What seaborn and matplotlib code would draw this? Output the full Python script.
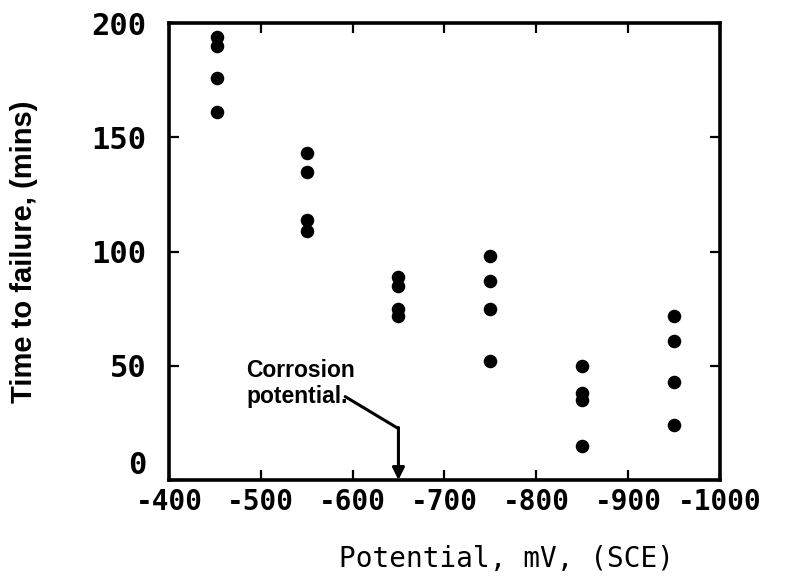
import matplotlib
matplotlib.use("Agg")
import matplotlib.pyplot as plt
import seaborn as sns
import pandas as pd

potential_mv = [-452, -452, -452, -452,
                -550, -550, -550, -550,
                -650, -650, -650, -650,
                -750, -750, -750, -750,
                -850, -850, -850, -850,
                -950, -950, -950, -950]
time_to_failure = [194, 190, 176, 161,
                   143, 135, 114, 109,
                   89, 85, 75, 72,
                   98, 87, 75, 52,
                   50, 38, 35, 15,
                   72, 61, 43, 24]
x_ticks = [-400, -500, -600, -700, -800, -900, -1000]
y_ticks = [0, 50, 100, 150, 200]
corrosion_potential = -650

df = pd.DataFrame({"Potential": potential_mv, "Time": time_to_failure})

sns.set_theme(style="white")
plt.rcParams['font.family'] = ['DejaVu Sans']

fig = plt.figure(figsize=(7.97, 5.79), dpi=100)
ax = fig.add_axes([0.212, 0.171, 0.691, 0.789])

sns.scatterplot(data=df, x="Potential", y="Time", ax=ax, color="black",
                s=95, edgecolor="black", linewidth=0, legend=False)

ax.set_xlim(-400, -1000)
ax.set_ylim(0, 200)
ax.set_xticks(x_ticks)
ax.set_yticks(y_ticks)
ax.set_xticklabels([str(v) for v in x_ticks])
ax.set_yticklabels([str(v) for v in y_ticks])

for sp in ax.spines.values():
    sp.set_visible(True)
    sp.set_color("black")
    sp.set_linewidth(2.6)

ax.tick_params(axis="both", which="both", direction="in", length=7, width=1.6,
               top=True, right=True, bottom=True, left=True, colors="black")
ax.tick_params(axis="x", pad=6)
ax.tick_params(axis="y", pad=16)
for lab in ax.get_xticklabels():
    lab.set_family("DejaVu Sans Mono")
    lab.set_fontweight("bold")
    lab.set_fontsize(20)
for lab in ax.get_yticklabels():
    lab.set_family("DejaVu Sans Mono")
    lab.set_fontweight("bold")
    lab.set_fontsize(22)
# the "0" label sits slightly above its tick in the original
ax.get_yticklabels()[0].set_verticalalignment("bottom")

ax.set_xlabel("Potential, mV, (SCE)", fontsize=20, color="black",
              family="DejaVu Sans Mono")
ax.xaxis.set_label_coords(0.612, -0.143)
ax.set_ylabel("Time to failure, (mins)", fontsize=21, color="black",
              family="Liberation Sans", fontweight="bold")
ax.yaxis.set_label_coords(-0.237, 0.5)

# annotation: Corrosion potential
ax.text(-484, 53, "Corrosion\npotential.", fontsize=16.5, ha="left", va="top",
        color="black", family="Liberation Sans", fontweight="bold",
        linespacing=1.15)
ax.plot([-592, corrosion_potential], [36.5, 22.5], color="black", lw=2.2)
ax.annotate("", xy=(corrosion_potential, 0), xytext=(corrosion_potential, 23),
            arrowprops=dict(arrowstyle="-|>", color="black", lw=2.2,
                            mutation_scale=18, shrinkA=0, shrinkB=0))

fig.savefig("out.png", dpi=100)
